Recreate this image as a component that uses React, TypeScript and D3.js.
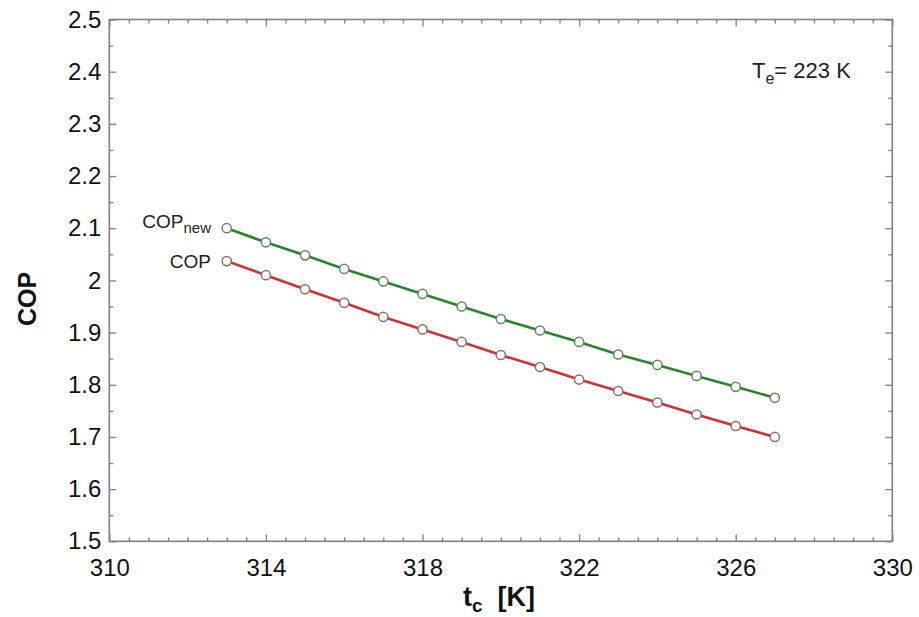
import React, { useEffect, useRef } from "react";
import * as d3 from "d3";

const tcValues = [313, 314, 315, 316, 317, 318, 319, 320, 321, 322, 323, 324, 325, 326, 327];
const copNew = [2.1, 2.073, 2.048, 2.022, 1.998, 1.974, 1.95, 1.926, 1.904, 1.882, 1.858, 1.838, 1.817, 1.796, 1.775];
const cop = [2.037, 2.01, 1.983, 1.957, 1.93, 1.906, 1.882, 1.857, 1.834, 1.81, 1.788, 1.766, 1.743, 1.721, 1.7];

const xMajor = [310, 314, 318, 322, 326, 330];
const yMajor = [1.5, 1.6, 1.7, 1.8, 1.9, 2.0, 2.1, 2.2, 2.3, 2.4, 2.5];

const W = 919, H = 617;
const margin = { top: 19.5, right: 26.7, bottom: 75.7, left: 109.3 };
const FONT = "'Liberation Sans', Arial, sans-serif";

export default function App() {
  const ref = useRef<SVGSVGElement>(null);

  useEffect(() => {
    const svg = d3.select(ref.current);
    svg.selectAll("*").remove();
    const innerW = W - margin.left - margin.right;
    const innerH = H - margin.top - margin.bottom;

    const x = d3.scaleLinear().domain([310, 330]).range([0, innerW]);
    const y = d3.scaleLinear().domain([1.5, 2.5]).range([innerH, 0]);

    const g = svg.append("g").attr("transform", `translate(${margin.left},${margin.top})`);

    // minor ticks every 0.5 K and every 0.05 COP
    const xMinor = d3.range(310, 330.01, 0.5).filter(v => (v - 310) % 4 !== 0);
    const yMinor = d3.range(1.55, 2.5, 0.1);

    const axisColor = "#808080";

    const addAxis = (axis: any, transform: string, cls: string) => {
      const a = g.append("g").attr("class", cls).attr("transform", transform).call(axis);
      a.select(".domain").remove();
      a.selectAll("line").attr("stroke", axisColor).attr("stroke-width", 1.3);
      a.selectAll("text").attr("fill", "#111").style("font-family", FONT).style("font-size", "24px");
      return a;
    };

    addAxis(d3.axisBottom(x).tickValues(xMinor).tickSize(-4).tickFormat(() => ""), `translate(0,${innerH})`, "xminb");
    addAxis(d3.axisTop(x).tickValues(xMinor).tickSize(-4).tickFormat(() => ""), `translate(0,0)`, "xmint");
    addAxis(d3.axisLeft(y).tickValues(yMinor).tickSize(-4).tickFormat(() => ""), `translate(0,0)`, "yminl");
    addAxis(d3.axisRight(y).tickValues(yMinor).tickSize(-4).tickFormat(() => ""), `translate(${innerW},0)`, "yminr");

    addAxis(d3.axisBottom(x).tickValues(xMajor).tickSize(-7).tickPadding(18).tickFormat(d3.format("d")), `translate(0,${innerH})`, "xmajb");
    addAxis(d3.axisTop(x).tickValues(xMajor).tickSize(-7).tickFormat(() => ""), `translate(0,0)`, "xmajt");
    addAxis(d3.axisLeft(y).tickValues(yMajor).tickSize(-7).tickPadding(8).tickFormat(d => {
      const v = +d;
      return Math.abs(v - 2) < 1e-9 ? "2" : d3.format(".1f")(v);
    }), `translate(0,0)`, "ymajl");
    addAxis(d3.axisRight(y).tickValues(yMajor).tickSize(-7).tickFormat(() => ""), `translate(${innerW},0)`, "ymajr");

    g.append("rect").attr("x", 0).attr("y", 0).attr("width", innerW).attr("height", innerH)
      .attr("fill", "none").attr("stroke", axisColor).attr("stroke-width", 1.6);

    const series = [
      { values: copNew, color: "#2a852a", marker: "#6f7f6f" },
      { values: cop, color: "#cc3333", marker: "#8a6f6f" },
    ];

    const line = d3.line<number>().x((_, i) => x(tcValues[i])).y(d => y(d));

    series.forEach(s => {
      g.append("path").datum(s.values).attr("d", line).attr("fill", "none")
        .attr("stroke", s.color).attr("stroke-width", 2.6);
      g.selectAll(null).data(s.values).join("circle")
        .attr("cx", (_, i) => x(tcValues[i])).attr("cy", d => y(d)).attr("r", 4.6)
        .attr("fill", "#fff").attr("stroke", s.marker).attr("stroke-width", 1.5);
    });

    // series labels
    const lbl1 = svg.append("text").attr("x", 211).attr("y", 228).attr("text-anchor", "end")
      .style("font-family", FONT).style("font-size", "19px").attr("fill", "#222");
    lbl1.append("tspan").text("COP");
    lbl1.append("tspan").attr("dy", 5).style("font-size", "15px").text("new");

    svg.append("text").attr("x", 211).attr("y", 268).attr("text-anchor", "end")
      .style("font-family", FONT).style("font-size", "19px").attr("fill", "#222").text("COP");

    // annotation
    const ann = svg.append("text").attr("x", 752).attr("y", 78)
      .style("font-family", FONT).style("font-size", "22px").attr("fill", "#222");
    ann.append("tspan").text("T");
    ann.append("tspan").attr("dy", 6).style("font-size", "16px").text("e");
    ann.append("tspan").attr("dy", -6).text("= 223 K");

    // axis titles
    svg.append("text").attr("transform", `translate(36,299) rotate(-90)`).attr("text-anchor", "middle")
      .style("font-family", FONT).style("font-size", "25px").style("font-weight", "bold").attr("fill", "#111").text("COP");

    const xt = svg.append("text").attr("x", 499).attr("y", 606).attr("text-anchor", "middle")
      .style("font-family", FONT).style("font-size", "27px").style("font-weight", "bold").attr("fill", "#111");
    xt.append("tspan").text("t");
    xt.append("tspan").attr("dy", 6).style("font-size", "19px").text("c");
    xt.append("tspan").attr("dy", -6).text("\u00a0\u00a0[K]");
  }, []);

  return (
    <div style={{ position: "absolute", left: 0, top: 0 }}>
      <svg ref={ref} width={W} height={H} style={{ display: "block", background: "#fff" }} />
    </div>
  );
}
